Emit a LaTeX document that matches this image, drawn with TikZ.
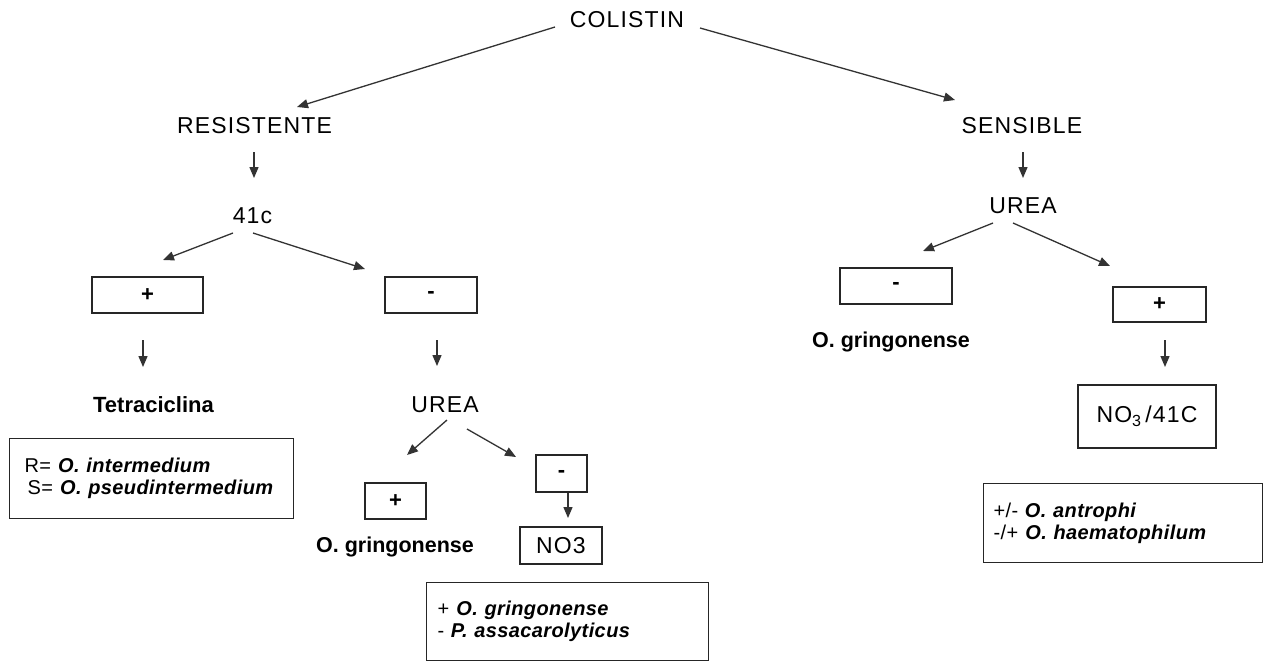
\documentclass[tikz,border=0pt]{standalone}
\usepackage{fontspec}
\setmainfont{Liberation Sans}
\newfontfamily\lab[LetterSpace=5]{Liberation Sans}
\newfontfamily\boxf[LetterSpace=2]{Liberation Sans}
\usetikzlibrary{arrows.meta}
\tikzset{
  lbl/.style={font=\lab\fontsize{23}{26}\selectfont, inner sep=0, anchor=base},
  blbl/.style={font=\fontsize{21.5}{24}\selectfont\bfseries, inner sep=0, anchor=base},
  bx/.style={draw=black!85, line width=1.2pt, inner sep=0, font=\fontsize{22}{24}\selectfont\bfseries},
  tbx/.style={draw=black!85, line width=1.2pt, inner sep=0, font=\lab\fontsize{23}{26}\selectfont},
  arr/.style={draw=black!80, line width=1.3pt, -{Triangle[length=11pt,width=9pt]}},
  info/.style={draw=black!85, line width=1.2pt, align=left, inner ysep=0, anchor=north west,
    font=\boxf\fontsize{20}{22}\selectfont},
}
\newcommand{\spc}[1]{\textbf{\textit{#1}}}
\begin{document}
\begin{tikzpicture}[x=1pt,y=-1pt]
\useasboundingbox[fill=white] (0,0) rectangle (1269,662);

% labels
\node[lbl] (colistin) at (627,27) {COLISTIN};
\node[lbl] (resistente) at (254.5,133) {RESISTENTE};
\node[lbl] (sensible) at (1022,133) {SENSIBLE};
\node[lbl] (c41) at (252.5,223) {41c};
\node[lbl] (ureaR) at (1023,213) {UREA};
\node[blbl, font=\fontsize{22}{24}\selectfont\bfseries] (tetra) at (153.5,412) {Tetraciclina};
\node[lbl] (ureaL) at (445,412) {UREA};
\node[blbl] (gring1) at (395,552) {O. gringonense};
\node[blbl] (gring2) at (891,347) {O. gringonense};

% small boxes
\node[bx, minimum width=111, minimum height=36] (plusL) at (147.5,295) {+};
\node[bx, minimum width=92, minimum height=36] (minusL) at (431,295) {-};
\node[bx, minimum width=61, minimum height=36] (plus2) at (395.5,501) {+};
\node[bx, minimum width=51, minimum height=37] (minus2) at (561.5,473.5) {-};
\node[tbx, minimum width=82, minimum height=37] (no3) at (561,545.5) {NO3};
\node[bx, minimum width=112, minimum height=36] (minusR) at (896,286) {-};
\node[bx, minimum width=93, minimum height=35] (plusR) at (1159.5,304.5) {+};
\node[tbx, minimum width=138, minimum height=63] (no341c) at (1147,416.5) {NO\textsubscript{3}\,/41C};

% info boxes
\node[info, inner xsep=15, text width=254, minimum height=80] (infoL) at (9,438)
  {R= \spc{O. intermedium}\\\hspace*{3pt}S= \spc{O. pseudintermedium}};
\node[info, inner xsep=11, text width=260, minimum height=78] (infoM) at (426,582)
  {+ \spc{O. gringonense}\\- \spc{P. assacarolyticus}};
\node[info, inner xsep=10, text width=259, minimum height=79] (infoR) at (983,483)
  {+/- \spc{O. antrophi}\\-/+ \spc{O. haematophilum}};

% connector end points
\coordinate (a1s) at (555,27);   \coordinate (a1e) at (297,107);
\coordinate (a2s) at (700,28);   \coordinate (a2e) at (955,100);
\coordinate (a3s) at (254,152);  \coordinate (a3e) at (254,178);
\coordinate (a4s) at (1023,152); \coordinate (a4e) at (1023,178);
\coordinate (a5s) at (233,233);  \coordinate (a5e) at (163,260);
\coordinate (a6s) at (253,233);  \coordinate (a6e) at (365,269);
\coordinate (a7s) at (993,223);  \coordinate (a7e) at (923,251);
\coordinate (a8s) at (1013,223); \coordinate (a8e) at (1110,266);
\coordinate (a9s) at (143,340);  \coordinate (a9e) at (143,367);
\coordinate (a10s) at (437,340); \coordinate (a10e) at (437,366);
\coordinate (a11s) at (1165,340);\coordinate (a11e) at (1165,367);
\coordinate (a12s) at (447,420); \coordinate (a12e) at (407,455);
\coordinate (a13s) at (467,429); \coordinate (a13e) at (516,457);
\coordinate (a14e) at (568,518);

\draw[arr] (a1s) -- (a1e);
\draw[arr] (a2s) -- (a2e);
\draw[arr] (a3s) -- (a3e);
\draw[arr] (a4s) -- (a4e);
\draw[arr] (a5s) -- (a5e);
\draw[arr] (a6s) -- (a6e);
\draw[arr] (a7s) -- (a7e);
\draw[arr] (a8s) -- (a8e);
\draw[arr] (a9s) -- (a9e);
\draw[arr] (a10s) -- (a10e);
\draw[arr] (a11s) -- (a11e);
\draw[arr] (a12s) -- (a12e);
\draw[arr] (a13s) -- (a13e);
\draw[arr] (minus2.south -| a14e) -- (a14e);
\end{tikzpicture}
\end{document}
